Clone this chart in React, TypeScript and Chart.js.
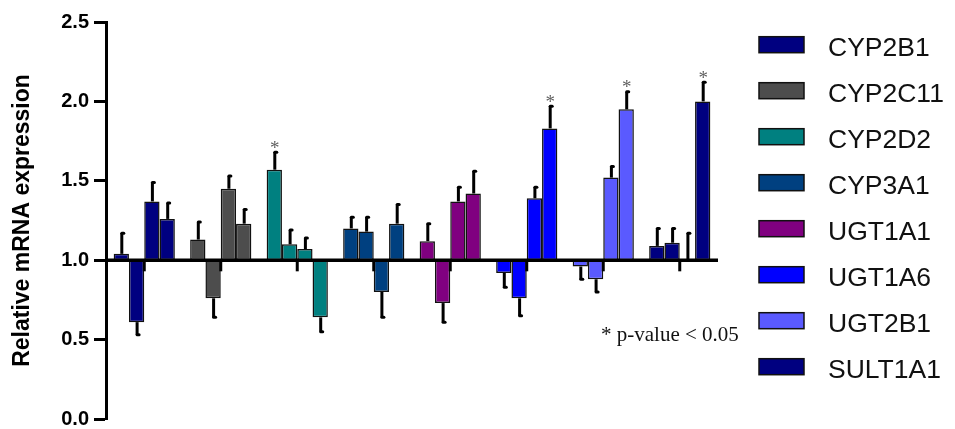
import React, { useEffect, useRef } from 'react';
import { Chart, registerables } from 'chart.js';

Chart.register(...registerables);

// ---------------- data ----------------
const genes = ['CYP2B1', 'CYP2C11', 'CYP2D2', 'CYP3A1', 'UGT1A1', 'UGT1A6', 'UGT2B1', 'SULT1A1'];
const geneColors = ['#000080', '#4d4d4d', '#008080', '#004080', '#800080', '#0000ff', '#5a5aff', '#000080'];

const conditions = ['Condition 1', 'Condition 2', 'Condition 3', 'Condition 4'];

const cond1Values = [1.04, 1.13, 1.57, 1.2, 1.12, 0.92, 0.96, 1.09];
const cond2Values = [0.61, 0.76, 1.1, 1.18, 0.73, 0.76, 0.88, 1.11];
const cond3Values = [1.37, 1.45, 1.07, 0.8, 1.37, 1.39, 1.52, 1.0];
const cond4Values = [1.26, 1.23, 0.64, 1.23, 1.42, 1.83, 1.95, 2.0];

const cond1Errors = [0.13, 0.11, 0.11, 0.07, 0.11, 0.09, 0.08, 0.11];
const cond2Errors = [0.08, 0.12, 0.09, 0.09, 0.12, 0.11, 0.08, 0.09];
const cond3Errors = [0.12, 0.08, 0.07, 0.16, 0.09, 0.07, 0.07, 0.17];
const cond4Errors = [0.1, 0.09, 0.09, 0.12, 0.14, 0.14, 0.11, 0.12];

// control (baseline) error per gene
const controlErrors = [0.07, 0.07, 0.07, 0.07, 0.07, 0.07, 0.07, 0.07];

// significant marks: gene index / condition index
const sigGene = [2, 5, 6, 7];
const sigCondition = [0, 3, 3, 3];

const baselineValue = 1;
const yTicks = [0, 0.5, 1, 1.5, 2, 2.5];
const yTitle = 'Relative mRNA expression';
const pValueNote = '* p-value < 0.05';

const valueSets = [cond1Values, cond2Values, cond3Values, cond4Values];
const errorSets = [cond1Errors, cond2Errors, cond3Errors, cond4Errors];

const SANS = "'Liberation Sans', Arial, Helvetica, sans-serif";
const SERIF = "'Liberation Serif', 'Times New Roman', serif";

const overlayPlugin = {
  id: 'overlay',
  afterDatasetsDraw(chart: any) {
    const { ctx, chartArea } = chart;
    const xs = chart.scales.x;
    const ys = chart.scales.y;
    const by = ys.getPixelForValue(baselineValue);

    ctx.save();
    // baseline
    ctx.strokeStyle = '#000';
    ctx.lineWidth = 3.5;
    ctx.lineCap = 'butt';
    ctx.beginPath();
    ctx.moveTo(chartArea.left, by);
    ctx.lineTo(chartArea.right, by);
    ctx.stroke();

    // control stubs
    ctx.lineWidth = 3;
    controlErrors.forEach((e, i) => {
      const cx = xs.getPixelForValue(i);
      ctx.beginPath();
      ctx.moveTo(cx, by);
      ctx.lineTo(cx, ys.getPixelForValue(baselineValue - e));
      ctx.stroke();
    });

    // error bars
    const ends: number[][] = [];
    chart.data.datasets.forEach((_ds: any, j: number) => {
      const meta = chart.getDatasetMeta(j);
      ends[j] = [];
      meta.data.forEach((bar: any, i: number) => {
        const v = valueSets[j][i];
        const e = errorSets[j][i];
        const end = v >= baselineValue ? v + e : v - e;
        const x0 = bar.x + 0.5;
        const yv = ys.getPixelForValue(v);
        const ye = ys.getPixelForValue(end);
        ends[j][i] = ye;
        ctx.lineCap = 'butt';
        ctx.lineWidth = 3;
        ctx.beginPath();
        ctx.moveTo(x0, yv);
        ctx.lineTo(x0, ye);
        ctx.stroke();
        ctx.lineCap = 'round';
        ctx.beginPath();
        ctx.moveTo(x0, ye);
        ctx.lineTo(x0 + 2, ye);
        ctx.stroke();
      });
    });

    // asterisks
    ctx.fillStyle = '#606060';
    ctx.font = `19px ${SERIF}`;
    ctx.textAlign = 'center';
    ctx.textBaseline = 'alphabetic';
    sigGene.forEach((g, k) => {
      const j = sigCondition[k];
      const bar = chart.getDatasetMeta(j).data[g];
      ctx.fillText('*', bar.x + 0.5, ends[j][g] + 1.5);
    });

    // p-value note
    ctx.fillStyle = '#111';
    ctx.font = `21px ${SERIF}`;
    ctx.textAlign = 'left';
    ctx.fillText(pValueNote, chartArea.right - 117, 341);

    // legend
    const boxLeft = chartArea.right + 41;
    genes.forEach((name, k) => {
      const cy = 44.7 + 46 * k;
      ctx.fillStyle = geneColors[k];
      ctx.fillRect(boxLeft, cy - 8, 45, 16);
      ctx.strokeStyle = '#111';
      ctx.lineWidth = 1.5;
      ctx.lineCap = 'butt';
      ctx.strokeRect(boxLeft, cy - 8, 45, 16);
      ctx.fillStyle = '#111';
      ctx.font = `26.5px ${SANS}`;
      ctx.textAlign = 'left';
      ctx.textBaseline = 'alphabetic';
      ctx.fillText(name, boxLeft + 69, cy + 11);
    });
    ctx.restore();
  },
};

export default function App() {
  const canvasRef = useRef<HTMLCanvasElement | null>(null);

  useEffect(() => {
    if (!canvasRef.current) return;
    const chart = new Chart(canvasRef.current, {
      type: 'bar',
      data: {
        labels: genes,
        datasets: conditions.map((name, j) => ({
          label: name,
          data: valueSets[j].map((v) => [baselineValue, v]),
          backgroundColor: geneColors,
          borderColor: '#111',
          borderWidth: 1.5,
          borderSkipped: false,
          barPercentage: 1,
          categoryPercentage: 0.8,
        })),
      },
      options: {
        animation: false,
        responsive: false,
        devicePixelRatio: 1,
        layout: { padding: { left: 0, top: 22, right: 237, bottom: 10 } },
        plugins: {
          legend: { display: false },
          tooltip: { enabled: false },
        },
        scales: {
          x: {
            type: 'category',
            display: false,
            offset: true,
            grid: { display: false },
          },
          y: {
            type: 'linear',
            min: yTicks[0],
            max: yTicks[yTicks.length - 1],
            afterBuildTicks: (scale: any) => {
              scale.ticks = yTicks.map((v) => ({ value: v }));
            },
            afterFit: (scale: any) => {
              scale.width = 106;
              scale.paddingTop = 0;
              scale.paddingBottom = 0;
            },
            ticks: {
              callback: (v: any) => Number(v).toFixed(1),
              color: '#000',
              padding: 5,
              font: { family: SANS, size: 20, weight: 'bold' },
            },
            grid: {
              display: true,
              drawOnChartArea: false,
              tickLength: 12,
              tickWidth: 3,
              tickColor: '#000',
            },
            border: { display: true, color: '#000', width: 3 },
            title: {
              display: true,
              text: yTitle,
              color: '#000',
              padding: { top: 9, bottom: 0 },
              font: { family: SANS, size: 23, weight: 'bold' },
            },
          },
        },
      },
      plugins: [overlayPlugin],
    } as any);
    return () => chart.destroy();
  }, []);

  return (
    <div style={{ position: 'absolute', left: 0, top: 0, width: 955, height: 429 }}>
      <canvas ref={canvasRef} width={955} height={429} />
    </div>
  );
}
